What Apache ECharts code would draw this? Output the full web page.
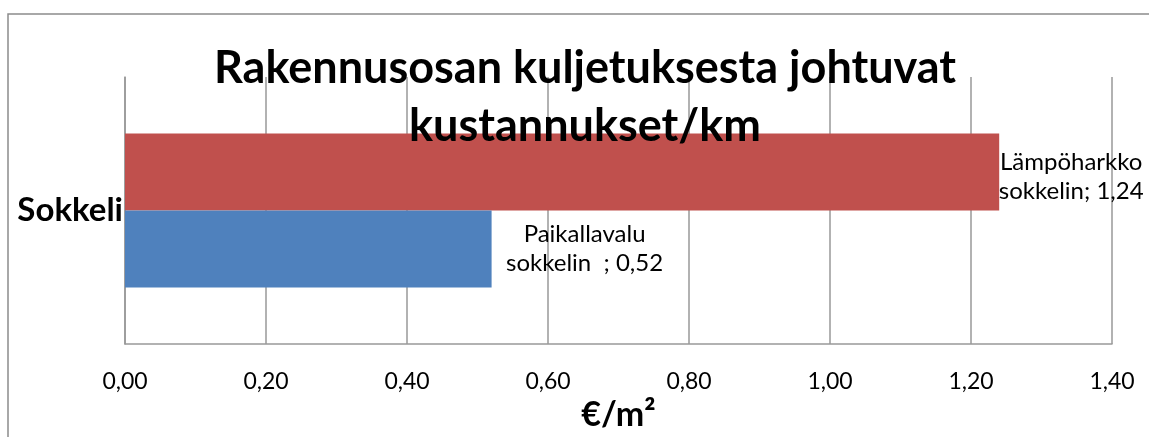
<!DOCTYPE html>
<html lang="fi">
<head>
<meta charset="UTF-8">
<title>Rakennusosan kuljetuksesta johtuvat kustannukset/km</title>
<script src="https://cdn.jsdelivr.net/npm/echarts@6/dist/echarts.min.js"></script>
<style>
  html, body { margin: 0; padding: 0; background: #fff; }
  #chart { width: 1149px; height: 437px; }
</style>
</head>
<body>
<div id="chart"></div>
<script>
// data
var categories = ["Sokkeli"];
var seriesNames = ["Lämpöharkko\nsokkelin", "Paikallavalu\nsokkelin  "];
var lampoharkko = [1.24];
var paikallavalu = [0.52];
var xTicks = { min: 0, max: 1.4, interval: 0.2 };

function fi(v) { return v.toFixed(2).replace(".", ","); }

var chart = echarts.init(document.getElementById("chart"));
var font = "Lato, 'Liberation Sans', sans-serif";

function barLabel(off) {
  return {
    show: true, position: "right", distance: 0, align: "center",
    offset: off, fontSize: 24, color: "#000", lineHeight: 29, fontFamily: font,
    formatter: function (p) { return p.seriesName + "; " + fi(p.value); }
  };
}

var option = {
  animation: false,
  textStyle: { fontFamily: font },
  title: {
    text: "Rakennusosan kuljetuksesta johtuvat\nkustannukset/km",
    left: 580,
    textAlign: "center",
    top: 34,
    textStyle: { fontSize: 45, fontWeight: "bold", color: "#000", lineHeight: 58, fontFamily: font }
  },
  graphic: [{
    type: "rect",
    shape: { x: 8, y: 14, width: 1300, height: 600 },
    style: { fill: "none", stroke: "#8c8c8c", lineWidth: 1.5 },
    silent: true, z: -1
  }],
  grid: { left: 125, right: 37, top: 77, bottom: 90 },
  xAxis: {
    type: "value",
    min: xTicks.min, max: xTicks.max, interval: xTicks.interval,
    name: "€/m²",
    nameLocation: "middle",
    nameGap: 54,
    nameTextStyle: { fontSize: 34, fontWeight: "bold", color: "#000", fontFamily: font },
    axisLine: { show: true, lineStyle: { color: "#999", width: 1.5 } },
    axisTick: { show: false },
    axisLabel: { formatter: fi, fontSize: 23, color: "#000", margin: 26, fontFamily: font },
    splitLine: { show: true, lineStyle: { color: "#999", width: 1.5 } }
  },
  yAxis: {
    type: "category",
    data: categories,
    axisLine: { show: true, lineStyle: { color: "#999", width: 1.5 } },
    axisTick: { show: false },
    axisLabel: { fontSize: 33, fontWeight: "bold", color: "#000", margin: 2, fontFamily: font }
  },
  series: [
    {
      name: seriesNames[0],
      type: "bar",
      data: lampoharkko,
      barWidth: 77,
      barGap: "0%",
      itemStyle: { color: "#C0504D" },
      label: barLabel([72, 5])
    },
    {
      name: seriesNames[1],
      type: "bar",
      data: paikallavalu,
      barWidth: 77,
      barGap: "0%",
      itemStyle: { color: "#4F81BD" },
      label: barLabel([93, 0])
    }
  ]
};
chart.setOption(option);
</script>
</body>
</html>
